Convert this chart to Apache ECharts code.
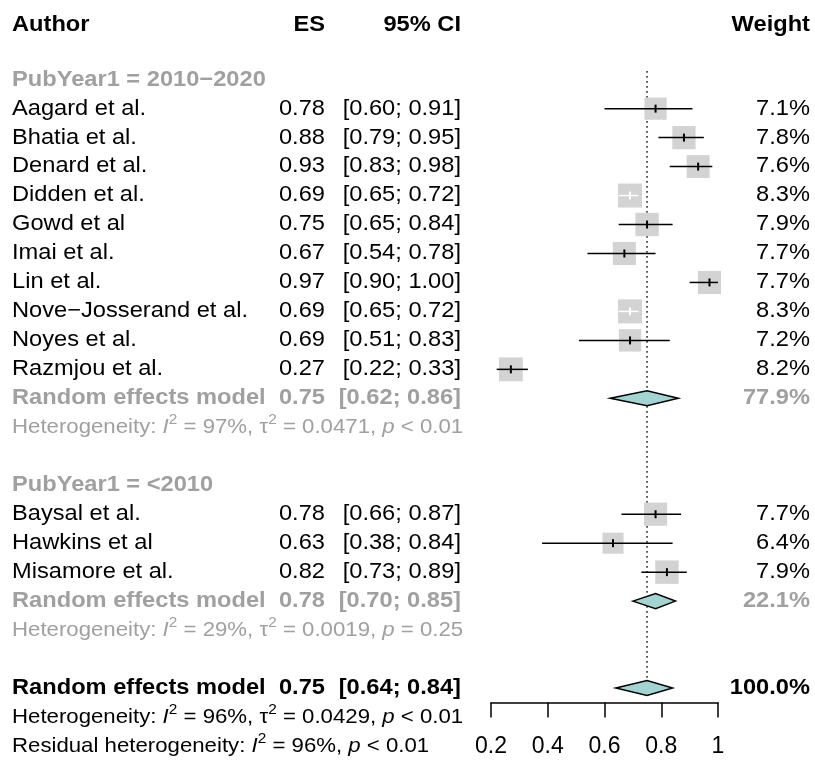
<!DOCTYPE html>
<html>
<head>
<meta charset="utf-8">
<script src="https://cdn.jsdelivr.net/npm/echarts@6/dist/echarts.min.js"></script>
<style>html,body{margin:0;padding:0;background:#fff}#c{width:815px;height:760px}</style>
</head>
<body>
<div id="c"></div>
<script>
// ---------- data ----------
var authors = ['Aagard et al.', 'Bhatia et al.', 'Denard et al.', 'Didden et al.', 'Gowd et al', 'Imai et al.', 'Lin et al.', 'Nove\u2212Josserand et al.', 'Noyes et al.', 'Razmjou et al.', 'Baysal et al.', 'Hawkins et al', 'Misamore et al.'];
var esValues = [0.78, 0.88, 0.93, 0.69, 0.75, 0.67, 0.97, 0.69, 0.69, 0.27, 0.78, 0.63, 0.82];
var ciLower = [0.60, 0.79, 0.83, 0.65, 0.65, 0.54, 0.90, 0.65, 0.51, 0.22, 0.66, 0.38, 0.73];
var ciUpper = [0.91, 0.95, 0.98, 0.72, 0.84, 0.78, 1.00, 0.72, 0.83, 0.33, 0.87, 0.84, 0.89];
var weights = [7.1, 7.8, 7.6, 8.3, 7.9, 7.7, 7.7, 8.3, 7.2, 8.2, 7.7, 6.4, 7.9];
var studyRows = [1, 2, 3, 4, 5, 6, 7, 8, 9, 10, 15, 16, 17];

var groupLabels = ['PubYear1 = 2010\u22122020', 'PubYear1 = <2010'];
var groupRows = [0, 14];

var summaryLabels = ['Random effects model', 'Random effects model', 'Random effects model'];
var summaryES = [0.75, 0.78, 0.75];
var summaryLower = [0.62, 0.70, 0.64];
var summaryUpper = [0.86, 0.85, 0.84];
var summaryWeights = ['77.9%', '22.1%', '100.0%'];
var summaryRows = [11, 18, 21];
var summaryOverall = [false, false, true];

var hetI2 = ['97%', '29%', '96%'];
var hetTau2 = ['0.0471', '0.0019', '0.0429'];
var hetP = ['< 0.01', '= 0.25', '< 0.01'];
var hetRows = [12, 19, 22];
var residualI2 = '96%';
var residualP = '< 0.01';
var residualRow = 23;

var headerLabels = ['Author', 'ES', '95% CI', 'Weight'];
var headerRow = -1.9;

var xTickLabels = ['0.2', '0.4', '0.6', '0.8', '1'];
var refValue = 0.75;

// ---------- styles ----------
var FONT = '"Liberation Sans", Arial, Helvetica, sans-serif';
var FS = 21.5;      // main text size
var FS_HET = 20.2;  // heterogeneity text size
var SX = 1.1;       // horizontal stretch of the original picture
var GREY = '#a0a0a0';
var COL_AUTHOR = 12, COL_ES = 325, COL_CI = 461, COL_W = 810;

function fmt2(v) { return v.toFixed(2); }
function ci(lo, hi) { return '[' + fmt2(lo) + '; ' + fmt2(hi) + ']'; }

// ---------- table rows ----------
var tableRows = [];
tableRows.push({ row: headerRow, kind: 'header' });
groupLabels.forEach(function (g, i) { tableRows.push({ row: groupRows[i], kind: 'group', a: g }); });
authors.forEach(function (a, i) {
  tableRows.push({ row: studyRows[i], kind: 'study', a: a, es: fmt2(esValues[i]), ci: ci(ciLower[i], ciUpper[i]), w: weights[i].toFixed(1) + '%' });
});
summaryLabels.forEach(function (s, i) {
  tableRows.push({ row: summaryRows[i], kind: summaryOverall[i] ? 'overall' : 'sub', a: s, es: fmt2(summaryES[i]), ci: ci(summaryLower[i], summaryUpper[i]), w: summaryWeights[i] });
});
hetI2.forEach(function (v, i) {
  tableRows.push({ row: hetRows[i], kind: 'het', overall: i === 2, i2: v, tau: hetTau2[i], p: hetP[i] });
});
tableRows.push({ row: residualRow, kind: 'resid', i2: residualI2, p: residualP });

function richFor(color) {
  return {
    n: { fontFamily: FONT, fontSize: FS_HET, fill: color, lineHeight: 28 },
    i: { fontFamily: FONT, fontSize: FS_HET, fontStyle: 'italic', fill: color, lineHeight: 28 },
    s: { fontFamily: FONT, fontSize: 14, fill: color, lineHeight: 14, verticalAlign: 'top' }
  };
}

function txt(x, y, text, align, color, bold) {
  return { type: 'text', x: x, y: y, scaleX: SX, style: { text: text, fill: color, font: (bold ? 'bold ' : '') + FS + 'px ' + FONT, align: align, verticalAlign: 'middle' } };
}

var chart = echarts.init(document.getElementById('c'), null, { renderer: 'canvas' });

var studyData = esValues.map(function (v, i) { return [v, studyRows[i], ciLower[i], ciUpper[i], weights[i]]; });
var diamondData = summaryES.map(function (v, i) { return [v, summaryRows[i], summaryLower[i], summaryUpper[i]]; });

chart.setOption({
  animation: false,
  backgroundColor: '#fff',
  grid: { left: 491, right: 97, top: 0, bottom: 57.5, containLabel: false },
  xAxis: {
    type: 'value', min: 0.2, max: 1, interval: 0.2, position: 'bottom',
    axisLine: { show: true, onZero: false, lineStyle: { color: '#000', width: 1.5 } },
    axisTick: { show: true, length: 15, inside: false, lineStyle: { color: '#000', width: 1.5 } },
    axisLabel: {
      margin: 33, fontSize: 23, fontFamily: FONT, color: '#000',
      formatter: function (v) { return xTickLabels[Math.round((v - 0.2) / 0.2)]; }
    },
    splitLine: { show: false }
  },
  yAxis: { type: 'value', inverse: true, min: -2.75, max: 21.5, show: false, splitLine: { show: false } },
  series: [
    {
      type: 'custom', silent: true, clip: false, z: 1,
      data: [[refValue, -0.3, summaryRows[2]]],
      renderItem: function (params, api) {
        var a = api.coord([api.value(0), api.value(1)]);
        var b = api.coord([api.value(0), api.value(2)]);
        return { type: 'line', shape: { x1: a[0], y1: a[1], x2: b[0], y2: b[1] - 7.5 }, style: { stroke: '#444', lineWidth: 1.7, lineDash: [1.7, 3.3] } };
      }
    },
    {
      type: 'custom', silent: true, clip: false, z: 2,
      data: studyData,
      renderItem: function (params, api) {
        var c = api.coord([api.value(0), api.value(1)]);
        var l = api.coord([api.value(2), api.value(1)]);
        var h = api.coord([api.value(3), api.value(1)]);
        var side = 24 * Math.sqrt(api.value(4) / 8.3);
        var inside = l[0] >= c[0] - side / 2 && h[0] <= c[0] + side / 2;
        var lc = inside ? '#fff' : '#000';
        return {
          type: 'group', children: [
            { type: 'rect', shape: { x: c[0] - side / 2, y: c[1] - side / 2, width: side, height: side }, style: { fill: '#d3d3d3' } },
            { type: 'line', shape: { x1: l[0], y1: c[1], x2: h[0], y2: c[1] }, style: { stroke: lc, lineWidth: 1.5 } },
            { type: 'line', shape: { x1: c[0], y1: c[1] - 4, x2: c[0], y2: c[1] + 4 }, style: { stroke: lc, lineWidth: 2 } }
          ]
        };
      }
    },
    {
      type: 'custom', silent: true, clip: false, z: 3,
      data: diamondData,
      renderItem: function (params, api) {
        var c = api.coord([api.value(0), api.value(1)]);
        var l = api.coord([api.value(2), api.value(1)]);
        var h = api.coord([api.value(3), api.value(1)]);
        var hh = 7.5;
        return { type: 'polygon', shape: { points: [[l[0], c[1]], [c[0], c[1] - hh], [h[0], c[1]], [c[0], c[1] + hh]] }, style: { fill: '#a3d4d2', stroke: '#000', lineWidth: 1.5 } };
      }
    },
    {
      type: 'custom', silent: true, clip: false, z: 4,
      data: tableRows.map(function (r) { return [0.5, r.row]; }),
      renderItem: function (params, api) {
        var r = tableRows[params.dataIndex];
        var y = api.coord([0.5, api.value(1)])[1];
        var ch = [];
        if (r.kind === 'header') {
          ch.push(txt(COL_AUTHOR, y, headerLabels[0], 'left', '#000', true));
          ch.push(txt(COL_ES, y, headerLabels[1], 'right', '#000', true));
          ch.push(txt(COL_CI, y, headerLabels[2], 'right', '#000', true));
          ch.push(txt(COL_W, y, headerLabels[3], 'right', '#000', true));
        } else if (r.kind === 'group') {
          ch.push(txt(COL_AUTHOR, y, r.a, 'left', GREY, true));
        } else if (r.kind === 'study' || r.kind === 'sub' || r.kind === 'overall') {
          var col = r.kind === 'sub' ? GREY : '#000';
          var b = r.kind !== 'study';
          ch.push(txt(COL_AUTHOR, y, r.a, 'left', col, b));
          ch.push(txt(COL_ES, y, r.es, 'right', col, b));
          ch.push(txt(COL_CI, y, r.ci, 'right', col, b));
          ch.push(txt(COL_W, y, r.w, 'right', col, b));
        } else if (r.kind === 'het' || r.kind === 'resid') {
          var color = (r.kind === 'het' && !r.overall) ? GREY : '#000';
          var t;
          if (r.kind === 'het') {
            t = '{n|Heterogeneity: }{i|I}{s|2}{n| = ' + r.i2 + ', \u03C4}{s|2}{n| = ' + r.tau + ', }{i|p}{n| ' + r.p + '}';
          } else {
            t = '{n|Residual heterogeneity: }{i|I}{s|2}{n| = ' + r.i2 + ', }{i|p}{n| ' + r.p + '}';
          }
          ch.push({ type: 'text', x: COL_AUTHOR, y: y, scaleX: SX, style: { text: t, rich: richFor(color), fill: color, font: FS_HET + 'px ' + FONT, align: 'left', verticalAlign: 'middle' } });
        }
        return { type: 'group', children: ch };
      }
    }
  ]
});
</script>
</body>
</html>
